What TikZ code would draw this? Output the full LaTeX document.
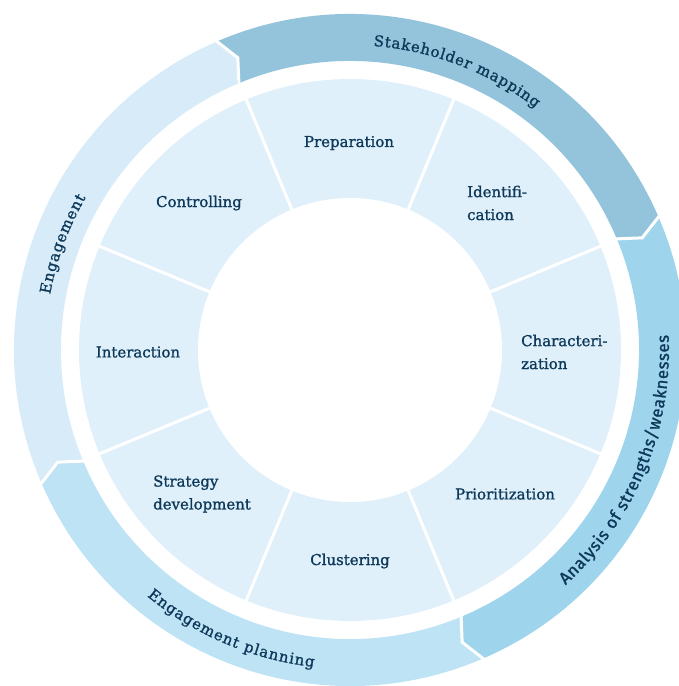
\documentclass[tikz,border=0pt]{standalone}
\usepackage{fontspec}
\setmainfont{DejaVu Serif}
\newfontfamily\lblfont{DejaVu Serif}[Scale=1.5, FakeBold=1.2]
\newfontfamily\arcfont{DejaVu Serif}[Scale=1.5, FakeBold=1.2]
\newfontfamily\arcsans{Fira Sans}[Scale=1.7, FakeBold=1.2]
\usetikzlibrary{decorations.text}
\definecolor{sectorfill}{HTML}{DFF0FA}
\definecolor{smfill}{HTML}{93C4DB}
\definecolor{anfill}{HTML}{9FD4ED}
\definecolor{epfill}{HTML}{BDE3F5}
\definecolor{enfill}{HTML}{D7ECF8}
\definecolor{navy}{HTML}{0D3859}
\tikzset{
  lbl/.style={text=navy, font=\fontsize{10}{23}\selectfont\lblfont, inner sep=0pt},
  lbll/.style={lbl, align=left},
  sepline/.style={white, line width=3bp},
  gapline/.style={white, line width=3bp, line join=miter},
}
\newcommand{\outerarc}[3]{%
  \fill[#3] (#1+1:336bp) -- (#1-1.5:313bp) -- (#1+0.5:289bp)
    arc[start angle=#1+0.5, end angle=#2+0.5, radius=289bp]
    -- (#2-1.5:313bp) -- (#2+1:336bp)
    arc[start angle=#2+1, end angle=#1+1, radius=336bp] -- cycle;}
\begin{document}
\begin{tikzpicture}
\useasboundingbox (-350bp,-336bp) rectangle (329bp,350bp);
% outer ring
\outerarc{112.5}{22.5}{smfill}
\outerarc{22.5}{-67.5}{anfill}
\outerarc{-67.5}{-157.5}{epfill}
\outerarc{202.5}{112.5}{enfill}
\foreach \b in {112.5,22.5,-67.5,202.5}
  \draw[gapline] (\b+1.2:340bp) -- (\b-1.5:313bp) -- (\b+0.4:285bp);
% inner ring
\fill[sectorfill] (0,0) circle (271bp);
\fill[white] (0,0) circle (152bp);
\foreach \a in {22.5,67.5,...,337.5}
  \draw[sepline] (\a:148bp) -- (\a:275bp);
% arc labels
\path[decorate, decoration={text along path, text align={fit to path},
  text={|\arcfont\color{navy}|Stakeholder mapping}}]
  (85.6:305bp) arc[start angle=85.6, end angle=52.5, radius=305bp];
\path[decorate, decoration={text along path, text align={fit to path},
  text={|\arcsans\color{navy}|Analysis of strengths/weaknesses}}]
  (-47.5:319bp) arc[start angle=-47.5, end angle=2.7, radius=319bp];
\path[decorate, decoration={text along path, text align={fit to path},
  text={|\arcfont\color{navy}|Engagement planning}}]
  (-129.5:319bp) arc[start angle=-129.5, end angle=-96.5, radius=319bp];
\path[decorate, decoration={text along path, text align={fit to path},
  text={|\arcfont\color{navy}|Engagement}}]
  (169.5:305bp) arc[start angle=169.5, end angle=150, radius=305bp];
% inner labels
\node[lbl] (prep) at (-1bp,207bp) {Preparation};
\node[lbll, anchor=west] (ident) at (117bp,147bp) {Identifi-\\cation};
\node[lbll, anchor=west] (char) at (171bp,-2bp) {Characteri-\\zation};
\node[lbl] (prio) at (155bp,-144bp) {Prioritization};
\node[lbl] (clus) at (0bp,-211bp) {Clustering};
\node[lbll, anchor=west] (strat) at (-197bp,-144bp) {Strategy\\development};
\node[lbl] (inter) at (-212bp,-2bp) {Interaction};
\node[lbl] (ctrl) at (-151bp,147bp) {Controlling};
\end{tikzpicture}
\end{document}
